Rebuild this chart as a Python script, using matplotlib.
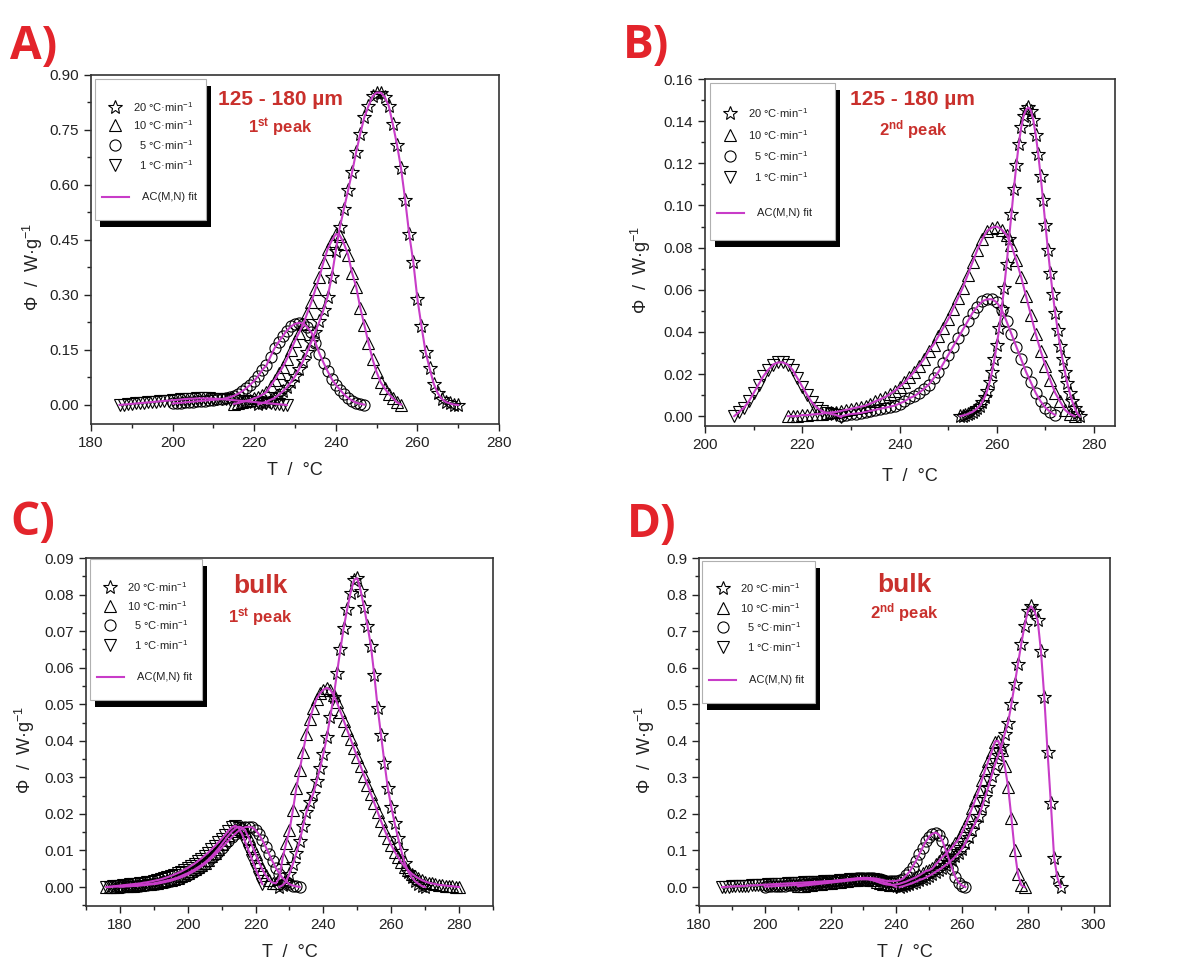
import numpy as np
import matplotlib
matplotlib.use("Agg")
import matplotlib.pyplot as plt
from matplotlib.ticker import MultipleLocator, FormatStrFormatter
from matplotlib.patches import Rectangle

plt.rcParams['font.family'] = ['Liberation Sans', 'DejaVu Sans']
plt.rcParams['mathtext.fontset'] = 'custom'
plt.rcParams['mathtext.rm'] = 'Liberation Sans'
plt.rcParams['mathtext.bf'] = 'Liberation Sans:bold'
plt.rcParams['mathtext.default'] = 'regular'

MAG = '#c83cc8'
LETTER_RED = '#e3242b'
NOTE_RED = '#c9302c'

# ---------------- data (T in degC, phi in W/g) ----------------
# panel A : 125-180 um, 1st peak  (start temperature, 1 degC steps)
a_t1 = 187
a_y1 = [0.000, 0.001, 0.002, 0.003, 0.004, 0.005, 0.006, 0.007, 0.008, 0.009,
        0.010, 0.011, 0.012, 0.013, 0.014, 0.015, 0.016, 0.017, 0.017, 0.018,
        0.018, 0.018, 0.018, 0.017, 0.017, 0.016, 0.015, 0.014, 0.013, 0.012,
        0.011, 0.010, 0.009, 0.008, 0.007, 0.006, 0.005, 0.004, 0.003, 0.002,
        0.001, 0.000]
a_t5 = 200
a_y5 = [0.004, 0.005, 0.006, 0.007, 0.008, 0.009, 0.010, 0.011, 0.012, 0.013,
        0.014, 0.015, 0.016, 0.018, 0.021, 0.025, 0.030, 0.037, 0.045, 0.055,
        0.066, 0.079, 0.096, 0.108, 0.132, 0.155, 0.172, 0.188, 0.203, 0.214,
        0.221, 0.224, 0.222, 0.212, 0.198, 0.170, 0.140, 0.115, 0.092, 0.071,
        0.055, 0.042, 0.029, 0.019, 0.012, 0.006, 0.003, 0.001]
a_t10 = 215
a_y10 = [0.003, 0.005, 0.008, 0.011, 0.014, 0.018, 0.022, 0.028, 0.035, 0.052,
         0.068, 0.086, 0.103, 0.125, 0.150, 0.175, 0.197, 0.220, 0.250, 0.280,
         0.315, 0.350, 0.390, 0.425, 0.448, 0.466, 0.462, 0.440, 0.410, 0.360,
         0.322, 0.265, 0.218, 0.170, 0.125, 0.090, 0.062, 0.045, 0.030, 0.018,
         0.007, 0.001]
a_t20 = 221
a_y20 = [0.002, 0.005, 0.009, 0.014, 0.019, 0.027, 0.037, 0.048, 0.062, 0.078,
         0.098, 0.120, 0.145, 0.172, 0.200, 0.228, 0.260, 0.295, 0.350, 0.420,
         0.485, 0.535, 0.585, 0.635, 0.690, 0.740, 0.785, 0.815, 0.842, 0.852,
         0.852, 0.840, 0.815, 0.765, 0.710, 0.645, 0.560, 0.465, 0.390, 0.290,
         0.215, 0.145, 0.100, 0.058, 0.032, 0.016, 0.008, 0.004, 0.001, 0.000]

# panel B : 125-180 um, 2nd peak
b_t1 = 206
b_y1 = [0.000, 0.002, 0.004, 0.007, 0.011, 0.015, 0.019, 0.022, 0.0245, 0.0255,
        0.0255, 0.0245, 0.022, 0.018, 0.014, 0.010, 0.0065, 0.004, 0.0025, 0.0015,
        0.001, 0.0005, -0.0005]
b_t5 = 228
b_y5 = [0.000, 0.0005, 0.001, 0.0012, 0.0015, 0.002, 0.0025, 0.003, 0.0035, 0.004,
        0.0045, 0.005, 0.006, 0.007, 0.0085, 0.0095, 0.011, 0.013, 0.015, 0.018,
        0.021, 0.025, 0.029, 0.033, 0.037, 0.041, 0.045, 0.049, 0.052, 0.0545,
        0.0555, 0.0555, 0.054, 0.0505, 0.045, 0.039, 0.033, 0.027, 0.021, 0.016,
        0.011, 0.007, 0.004, 0.002, 0.0005]
b_t10 = 217
b_y10 = [0.000, 0.000, 0.000, 0.0005, 0.0005, 0.0008, 0.001, 0.0012, 0.0015, 0.0018,
         0.002, 0.0025, 0.003, 0.0035, 0.004, 0.0045, 0.005, 0.006, 0.007, 0.008,
         0.009, 0.0105, 0.012, 0.014, 0.016, 0.0185, 0.021, 0.024, 0.027, 0.031,
         0.034, 0.038, 0.042, 0.046, 0.051, 0.056, 0.061, 0.067, 0.073, 0.079,
         0.084, 0.088, 0.0895, 0.090, 0.0885, 0.086, 0.081, 0.074, 0.066, 0.057,
         0.048, 0.039, 0.031, 0.024, 0.017, 0.011, 0.007, 0.003, 0.001, 0.000]
b_t20 = 252.5   # 0.5 degC steps
b_y20 = [0.000, 0.0003, 0.0006, 0.001, 0.0015, 0.002, 0.0028, 0.0038, 0.005, 0.0068,
         0.009, 0.012, 0.016, 0.021, 0.027, 0.034, 0.042, 0.051, 0.061, 0.072,
         0.084, 0.096, 0.108, 0.119, 0.129, 0.137, 0.1425, 0.1455, 0.1465, 0.145,
         0.1405, 0.1335, 0.1245, 0.114, 0.1025, 0.0905, 0.079, 0.068, 0.058, 0.049,
         0.041, 0.0335, 0.027, 0.021, 0.0155, 0.011, 0.007, 0.004, 0.0015, 0.000]

# panel C : bulk, 1st peak
c_t1 = 176
c_y1 = [0.0, 0.0001, 0.0002, 0.0003, 0.0004, 0.0005, 0.0006, 0.0007, 0.0008, 0.0009,
        0.0010, 0.0012, 0.0013, 0.0015, 0.0017, 0.0019, 0.0021, 0.0024, 0.0027, 0.0030,
        0.0034, 0.0038, 0.0042, 0.0047, 0.0052, 0.0058, 0.0064, 0.0071, 0.0078, 0.0086,
        0.0094, 0.0103, 0.0112, 0.0122, 0.0132, 0.0143, 0.0154, 0.0163, 0.0168, 0.0162,
        0.0145, 0.0122, 0.0098, 0.0074, 0.0050, 0.0028, 0.0008]
c_t5 = 180
c_y5 = [0.0001, 0.0001, 0.0002, 0.0002, 0.0003, 0.0003, 0.0004, 0.0005, 0.0006, 0.0007,
        0.0008, 0.0009, 0.0011, 0.0013, 0.0015, 0.0017, 0.0020, 0.0023, 0.0026, 0.0030,
        0.0034, 0.0039, 0.0044, 0.0050, 0.0056, 0.0063, 0.0071, 0.0079, 0.0088, 0.0097,
        0.0107, 0.0117, 0.0127, 0.0137, 0.0146, 0.0154, 0.0160, 0.0164, 0.0165, 0.0163,
        0.0156, 0.0144, 0.0128, 0.0110, 0.0090, 0.0070, 0.0052, 0.0037, 0.0025, 0.0015,
        0.0008, 0.0004, 0.0002, 0.0]
c_t10 = 176
c_y10 = [0.0, 0.0, 0.0001, 0.0001, 0.0002, 0.0002, 0.0003, 0.0003, 0.0004, 0.0005,
         0.0006, 0.0007, 0.0008, 0.0009, 0.0010, 0.0012, 0.0014, 0.0016, 0.0018, 0.0020,
         0.0023, 0.0026, 0.0030, 0.0034, 0.0038, 0.0043, 0.0048, 0.0054, 0.0060, 0.0067,
         0.0075, 0.0084, 0.0094, 0.0105, 0.0117, 0.0129, 0.0141, 0.0152, 0.0160, 0.0165,
         0.0163, 0.0153, 0.0135, 0.0113, 0.0090, 0.0068, 0.0048, 0.0032, 0.0020, 0.0012,
         0.0010, 0.0025, 0.0080, 0.0120, 0.0155, 0.0210, 0.0270, 0.0320, 0.0370, 0.0420,
         0.0460, 0.0490, 0.0515, 0.0530, 0.0540, 0.0545, 0.0540, 0.0525, 0.0505, 0.0480,
         0.0455, 0.0430, 0.0405, 0.0380, 0.0355, 0.0330, 0.0305, 0.0280, 0.0255, 0.0230,
         0.0205, 0.0180, 0.0157, 0.0135, 0.0115, 0.0097, 0.0082, 0.0068, 0.0056, 0.0046,
         0.0037, 0.0030, 0.0024, 0.0019, 0.0015, 0.0012, 0.0010, 0.0008, 0.0006, 0.0005,
         0.0004, 0.0003, 0.0002, 0.0001, 0.0]
c_t20 = 227
c_y20 = [0.0, 0.0005, 0.0015, 0.0037, 0.0063, 0.0092, 0.0125, 0.0168, 0.0205, 0.0232,
         0.0255, 0.029, 0.0325, 0.0365, 0.041, 0.0465, 0.052, 0.0585, 0.065, 0.071,
         0.076, 0.0805, 0.084, 0.0845, 0.081, 0.0765, 0.0715, 0.066, 0.058, 0.049,
         0.0415, 0.034, 0.027, 0.022, 0.0175, 0.0135, 0.0098, 0.0065, 0.0042, 0.0027,
         0.0016, 0.0009, 0.0003, 0.0]

# panel D : bulk, 2nd peak
d_t1 = 187
d_y1 = [0.0, 0.0005, 0.001, 0.0015, 0.002, 0.0025, 0.003, 0.0035, 0.004, 0.0045,
        0.005, 0.0055, 0.006, 0.0065, 0.007, 0.0075, 0.008, 0.0085, 0.009, 0.0095,
        0.010, 0.0105, 0.011, 0.0115, 0.012, 0.0125, 0.013, 0.0135, 0.014, 0.0145,
        0.015, 0.0155, 0.016, 0.0165, 0.017, 0.0175, 0.018, 0.019, 0.020, 0.021,
        0.022, 0.0225, 0.023, 0.023, 0.0225, 0.022, 0.021, 0.019, 0.017, 0.014,
        0.011, 0.008, 0.004, 0.0]
d_t5 = 200
d_y5 = [0.001, 0.0015, 0.002, 0.0025, 0.003, 0.0035, 0.004, 0.0045, 0.005, 0.0055,
        0.006, 0.007, 0.008, 0.009, 0.010, 0.011, 0.012, 0.013, 0.014, 0.015,
        0.016, 0.017, 0.018, 0.019, 0.020, 0.021, 0.022, 0.023, 0.024, 0.0245,
        0.025, 0.025, 0.0245, 0.024, 0.023, 0.021, 0.019, 0.017, 0.016, 0.016,
        0.017, 0.019, 0.023, 0.032, 0.042, 0.056, 0.072, 0.090, 0.108, 0.125,
        0.138, 0.146, 0.149, 0.143, 0.127, 0.102, 0.076, 0.050, 0.027, 0.012,
        0.004, 0.0]
d_t10 = 210
d_y10 = [0.002, 0.003, 0.004, 0.005, 0.006, 0.007, 0.008, 0.009, 0.010, 0.011,
         0.012, 0.013, 0.014, 0.015, 0.016, 0.017, 0.018, 0.019, 0.020, 0.021,
         0.021, 0.021, 0.020, 0.018, 0.015, 0.012, 0.009, 0.007, 0.006, 0.006,
         0.007, 0.009, 0.012, 0.015, 0.019, 0.023, 0.027, 0.032, 0.038, 0.044,
         0.046, 0.051, 0.062, 0.072, 0.082, 0.090, 0.100, 0.108, 0.120, 0.132,
         0.150, 0.168, 0.190, 0.215, 0.238, 0.262, 0.292, 0.320, 0.345, 0.370,
         0.398, 0.400, 0.375, 0.330, 0.275, 0.190, 0.100, 0.035, 0.005, 0.0]
d_t20 = 241
d_y20 = [0.0, 0.002, 0.005, 0.008, 0.011, 0.015, 0.019, 0.022, 0.026, 0.031,
         0.036, 0.042, 0.047, 0.053, 0.060, 0.067, 0.075, 0.084, 0.093, 0.105,
         0.120, 0.138, 0.157, 0.175, 0.193, 0.218, 0.246, 0.274, 0.305, 0.335,
         0.360, 0.385, 0.420, 0.450, 0.500, 0.555, 0.610, 0.665, 0.715, 0.755,
         0.768, 0.755, 0.730, 0.645, 0.520, 0.370, 0.230, 0.080, 0.025, 0.0]

rate_labels = ['20 °C·min$^{-1}$', '10 °C·min$^{-1}$', '5 °C·min$^{-1}$', '1 °C·min$^{-1}$']
markers = ['*', '^', 'o', 'v']
msizes = [10, 8, 8, 8]


def temps(t0, ys, step=1.0):
    return t0 + step * np.arange(len(ys))


def draw_series(ax, series):
    # series: list of (T, y, marker, size)
    for T, y, m, s in series:
        ax.plot(T, y, linestyle='none', marker=m, ms=s, mfc='none', mec='black',
                mew=0.8, zorder=2)
    for T, y, m, s in series:
        ax.plot(T, y, color=MAG, lw=1.5, zorder=3)


def style_axes(ax, xlim, ylim, xmaj, ymaj, yfmt, ylab_x, xlab_y):
    ax.set_xlim(*xlim)
    ax.set_ylim(*ylim)
    ax.xaxis.set_major_locator(MultipleLocator(xmaj))
    ax.xaxis.set_minor_locator(MultipleLocator(xmaj / 2))
    ax.yaxis.set_major_locator(MultipleLocator(ymaj))
    ax.yaxis.set_minor_locator(MultipleLocator(ymaj / 2))
    ax.yaxis.set_major_formatter(FormatStrFormatter(yfmt))
    ax.tick_params(which='both', direction='out', top=False, right=False,
                   labelsize=11, colors='#222222', width=1.0)
    ax.tick_params(which='major', length=5)
    ax.tick_params(which='minor', length=3)
    for sp in ax.spines.values():
        sp.set_color('#333333')
        sp.set_linewidth(1.2)
    ax.set_xlabel('T  /  °C', fontsize=13, color='#222222')
    ax.set_ylabel('Φ  /  W·g$^{-1}$', fontsize=13, color='#222222')
    ax.yaxis.set_label_coords(ylab_x, 0.45)
    ax.xaxis.set_label_coords(0.5, xlab_y)


def draw_legend(ax, x0, x1, top, bottom, rows_y, fit_y):
    w = x1 - x0
    h = top - bottom
    ax.add_patch(Rectangle((x0 + 0.013, bottom - 0.02), w, h, transform=ax.transAxes,
                           facecolor='black', edgecolor='none', zorder=5))
    ax.add_patch(Rectangle((x0, bottom), w, h, transform=ax.transAxes,
                           facecolor='white', edgecolor='#b0b0b0', lw=0.8, zorder=6))
    for m, s, lab, y in zip(markers, msizes, rate_labels, rows_y):
        ax.plot([x0 + 0.05], [y], marker=m, ms=s, mfc='none', mec='black', mew=0.8,
                linestyle='none', transform=ax.transAxes, zorder=7)
        ax.text(x0 + 0.24, y, lab, transform=ax.transAxes, ha='right', va='center',
                fontsize=8, color='#222222', zorder=7)
    ax.plot([x0 + 0.018, x0 + 0.083], [fit_y, fit_y], color=MAG, lw=1.5,
            transform=ax.transAxes, zorder=7)
    ax.text(x0 + 0.115, fit_y, 'AC(M,N) fit', transform=ax.transAxes, ha='left',
            va='center', fontsize=8, color='#222222', zorder=7)


def draw_note(ax, x, y1, y2, big, small, bigsize):
    ax.text(x, y1, big, transform=ax.transAxes, ha='center', va='center',
            fontsize=bigsize, fontweight='bold', color=NOTE_RED, zorder=8)
    ax.text(x, y2, small, transform=ax.transAxes, ha='center', va='center',
            fontsize=12, fontweight='bold', color=NOTE_RED, zorder=8)


fig = plt.figure(figsize=(11.96, 9.65), dpi=100)
axA = fig.add_axes([0.0761, 0.5606, 0.3411, 0.3617])
axB = fig.add_axes([0.5895, 0.5585, 0.3428, 0.3596])
axC = fig.add_axes([0.0719, 0.0611, 0.3403, 0.3606])
axD = fig.add_axes([0.5845, 0.0611, 0.3436, 0.3606])

# A
draw_series(axA, [
    (temps(a_t1, a_y1), a_y1, 'v', 8),
    (temps(a_t5, a_y5), a_y5, 'o', 8),
    (temps(a_t10, a_y10), a_y10, '^', 8),
    (temps(a_t20, a_y20), a_y20, '*', 10),
])
style_axes(axA, (180, 280), (-0.052, 0.90), 20, 0.15, '%.2f', -0.113, -0.11)
draw_legend(axA, 0.0098, 0.282, 0.9885, 0.5845, [0.908, 0.857, 0.799, 0.742], 0.65)
draw_note(axA, 0.465, 0.931, 0.848, '125 - 180 µm', '1$^{\\mathbf{st}}$ peak', 15)

# B
draw_series(axB, [
    (temps(b_t1, b_y1), b_y1, 'v', 8),
    (temps(b_t5, b_y5), b_y5, 'o', 8),
    (temps(b_t10, b_y10), b_y10, '^', 8),
    (temps(b_t20, b_y20, 0.5), b_y20, '*', 10),
])
style_axes(axB, (200, 284.3), (-0.0047, 0.16), 20, 0.02, '%.2f', -0.128, -0.12)
draw_legend(axB, 0.012, 0.317, 0.988, 0.536, [0.902, 0.839, 0.778, 0.718], 0.614)
draw_note(axB, 0.507, 0.94, 0.853, '125 - 180 µm', '2$^{\\mathbf{nd}}$ peak', 15)

# C
draw_series(axC, [
    (temps(c_t1, c_y1), c_y1, 'v', 8),
    (temps(c_t5, c_y5), c_y5, 'o', 8),
    (temps(c_t10, c_y10), c_y10, '^', 8),
    (temps(c_t20, c_y20), c_y20, '*', 10),
])
style_axes(axC, (170, 290), (-0.0052, 0.09), 20, 0.01, '%.2f', -0.12, -0.11)
draw_legend(axC, 0.0098, 0.285, 0.997, 0.592, [0.917, 0.862, 0.807, 0.75], 0.658)
draw_note(axC, 0.428, 0.92, 0.828, 'bulk', '1$^{\\mathbf{st}}$ peak', 19)

# D
draw_series(axD, [
    (temps(d_t1, d_y1), d_y1, 'v', 8),
    (temps(d_t5, d_y5), d_y5, 'o', 8),
    (temps(d_t10, d_y10), d_y10, '^', 8),
    (temps(d_t20, d_y20), d_y20, '*', 10),
])
style_axes(axD, (180, 305), (-0.052, 0.90), 20, 0.1, '%.1f', -0.102, -0.11)
draw_legend(axD, 0.0073, 0.282, 0.991, 0.583, [0.914, 0.856, 0.802, 0.744], 0.649)
draw_note(axD, 0.499, 0.922, 0.842, 'bulk', '2$^{\\mathbf{nd}}$ peak', 19)

# panel letters
for x, y, lab in [(0.0084, 0.9389, 'A)'), (0.521, 0.94, 'B)'),
                  (0.0084, 0.4456, 'C)'), (0.524, 0.4435, 'D)')]:
    fig.text(x, y, lab, ha='left', va='baseline', fontsize=33, fontweight='bold',
             color=LETTER_RED, family='Open Sans')

fig.savefig('out.png', dpi=100)
